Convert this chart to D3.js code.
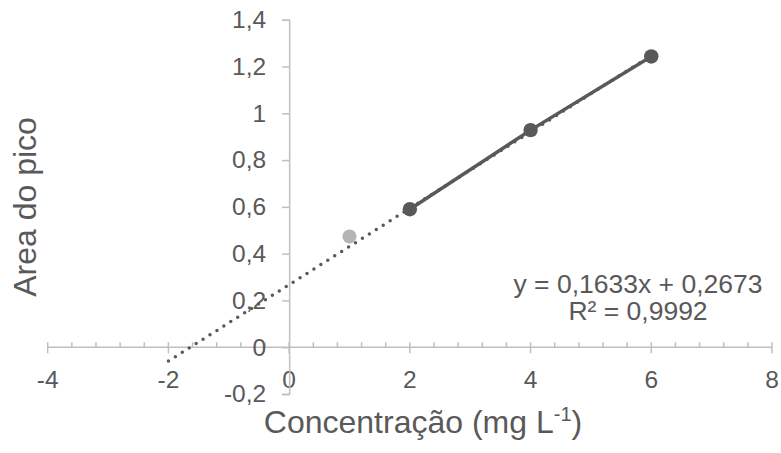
<!DOCTYPE html>
<html>
<head>
<meta charset="utf-8">
<script src="https://cdn.jsdelivr.net/npm/d3@7"></script>
<style>
  html, body { margin: 0; padding: 0; background: #fff; }
  svg { display: block; font-family: "Liberation Sans", Arial, sans-serif; }
</style>
</head>
<body>
<svg id="chart" width="781" height="453"></svg>
<script>
// Calibration points (concentration in mg/L, peak area)
const concentrations = [2, 4, 6];
const peakAreas = [0.59, 0.928, 1.243];

// Point left out of the fit
const excludedConc = [1];
const excludedArea = [0.473];

// Linear fit shown on the chart
const slope = 0.1633;
const intercept = 0.2673;
const rSquared = 0.9992;
const fitRange = [-2, 6];

// Axes
const xTickValues = [-4, -2, 0, 2, 4, 6, 8];
const yTickValues = [-0.2, 0, 0.2, 0.4, 0.6, 0.8, 1, 1.2, 1.4];
const xTitle = "Concentração (mg L";
const xTitleSup = "-1";
const yTitle = "Area do pico";

const axisColor = "#bfbfbf";
const textColor = "#595959";
const markColor = "#595959";
const excludedColor = "#b4b4b4";

const ptBR = d3.formatLocale({ decimal: ",", thousands: ".", grouping: [3], currency: ["R$", ""], minus: "-" });
const fmt = ptBR.format("~g");
const fmtEq = ptBR.format(".4f");

const svg = d3.select("#chart");

const x = d3.scaleLinear().domain([-4, 8]).range([47.7, 772]);
const y = d3.scaleLinear().domain([-0.2, 1.4]).range([394, 19.7]);

// Horizontal axis through y = 0, with minor ticks
const minorX = d3.range(-4, 8.001, 0.4).filter(v => Math.abs(v / 2 - Math.round(v / 2)) > 1e-6);
const gx = svg.append("g").attr("transform", `translate(0,${y(0)})`);
gx.append("line").attr("x1", x(-4)).attr("x2", x(8))
  .attr("stroke", axisColor).attr("stroke-width", 1.5);
gx.selectAll("line.minor").data(minorX).join("line").attr("class", "minor")
  .attr("x1", d => x(d)).attr("x2", d => x(d)).attr("y1", -5).attr("y2", 0)
  .attr("stroke", axisColor).attr("stroke-width", 1.5);
gx.selectAll("line.major").data(xTickValues).join("line").attr("class", "major")
  .attr("x1", d => x(d)).attr("x2", d => x(d)).attr("y1", -5).attr("y2", 6)
  .attr("stroke", axisColor).attr("stroke-width", 1.5);
gx.selectAll("text").data(xTickValues).join("text")
  .attr("x", d => x(d)).attr("y", 41)
  .attr("text-anchor", "middle").attr("fill", textColor)
  .attr("font-size", 24.5).text(d => fmt(d));

// Vertical axis through x = 0
const yAxis = d3.axisLeft(y).tickValues(yTickValues).tickSize(7).tickPadding(16)
  .tickFormat(d => fmt(d));
const gy = svg.append("g").attr("transform", `translate(${x(0)},0)`).call(yAxis);
gy.select(".domain").attr("stroke", axisColor).attr("stroke-width", 1.5);
gy.selectAll(".tick line").attr("stroke", axisColor).attr("stroke-width", 1.5);
gy.selectAll(".tick text").attr("fill", textColor).attr("font-size", 24.5)
  .attr("font-family", "Liberation Sans, Arial, sans-serif");

// Fitted line (dotted), drawn from the equation
const fitLine = d3.line().x(d => x(d)).y(d => y(slope * d + intercept));
svg.append("path").datum(fitRange).attr("d", fitLine)
  .attr("fill", "none").attr("stroke", markColor).attr("stroke-width", 3.5)
  .attr("stroke-linecap", "round").attr("stroke-dasharray", "0 8.2");

// Calibration series: line and markers
const pts = concentrations.map((c, i) => [c, peakAreas[i]]);
svg.append("path").datum(pts)
  .attr("d", d3.line().x(d => x(d[0])).y(d => y(d[1])))
  .attr("fill", "none").attr("stroke", markColor).attr("stroke-width", 3.5);
svg.selectAll("circle.cal").data(pts).join("circle").attr("class", "cal")
  .attr("cx", d => x(d[0])).attr("cy", d => y(d[1])).attr("r", 7.2)
  .attr("fill", markColor);

// Excluded point
svg.selectAll("circle.exc").data(excludedConc.map((c, i) => [c, excludedArea[i]]))
  .join("circle").attr("class", "exc")
  .attr("cx", d => x(d[0])).attr("cy", d => y(d[1])).attr("r", 7)
  .attr("fill", excludedColor);

// Equation label
const eq = svg.append("text").attr("text-anchor", "middle").attr("fill", textColor)
  .attr("font-size", 26.5);
eq.append("tspan").attr("x", 638).attr("y", 293)
  .text(`y = ${fmtEq(slope)}x + ${fmtEq(intercept)}`);
eq.append("tspan").attr("x", 638).attr("y", 320)
  .text(`R² = ${fmtEq(rSquared)}`);

// Axis titles
const xt = svg.append("text").attr("x", 423).attr("y", 433)
  .attr("text-anchor", "middle").attr("fill", textColor).attr("font-size", 32);
xt.append("tspan").text(xTitle);
xt.append("tspan").attr("font-size", 20).attr("dy", -12).text(xTitleSup);
xt.append("tspan").attr("dy", 12).text(")");

svg.append("text").attr("transform", `translate(36,207) rotate(-90)`)
  .attr("text-anchor", "middle").attr("fill", textColor).attr("font-size", 32)
  .text(yTitle);
</script>
</body>
</html>
